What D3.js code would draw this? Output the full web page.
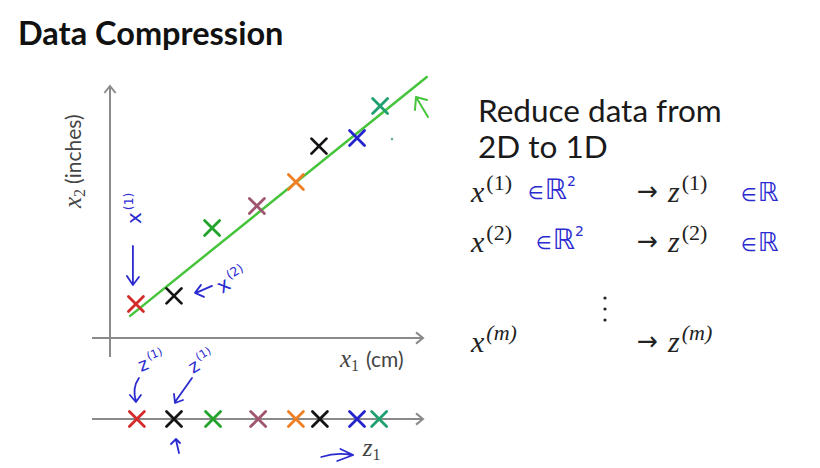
<!DOCTYPE html>
<html><head><meta charset="utf-8">
<script src="https://cdn.jsdelivr.net/npm/d3@7"></script>
<style>body{margin:0;background:#fff}svg{display:block}</style>
</head><body>
<script>
// ---- data ----
const pointNames = ["p1","p2","p3","p4","p5","p6","p7","p8"];
const x1Values = [8.1, 20.0, 31.9, 45.9, 58.1, 65.3, 77.2, 84.4];
const x2Values = [13.1, 16.2, 42.3, 50.8, 60.0, 73.8, 76.9, 89.2];
const z1Values = [8.4, 20.0, 32.2, 46.3, 58.1, 65.6, 77.2, 84.1];
const pointColors = ["#d42a2a","#141414","#22a32c","#a0566e","#ef7f22","#141414","#2424cc","#20a070"];
const lineX = [6.3, 99];
const lineY = [8.5, 100.4];

const W = 820, H = 468;
const svg = d3.select("body").append("svg").attr("width", W).attr("height", H);

const x = d3.scaleLinear().domain([0, 100]).range([110, 430]);
const y = d3.scaleLinear().domain([0, 100]).range([338, 78]);
const zY = 419;

const gray = "#8a8a8a", blue = "#2a2ad0", green = "#46c43c";
const serif = "'Liberation Serif', 'Times New Roman', serif";
const sans = "Lato, 'Open Sans', sans-serif";

// title
svg.append("text").attr("x", 18).attr("y", 45)
  .attr("font-family", sans).attr("font-weight", 700)
  .attr("font-size", 32.5).attr("fill", "#111").text("Data Compression");

// axes helper
function chevron(g, px, py, dir) {
  const s = 7;
  let d;
  if (dir === "right") d = `M${px - s},${py - s * 0.8}L${px},${py}L${px - s},${py + s * 0.8}`;
  else d = `M${px - s * 0.8},${py + s}L${px},${py}L${px + s * 0.8},${py + s}`;
  g.append("path").attr("d", d).attr("fill", "none").attr("stroke", gray).attr("stroke-width", 2);
}
const ax = svg.append("g");
ax.append("line").attr("x1", x(0)).attr("x2", x(0)).attr("y1", 357).attr("y2", 86)
  .attr("stroke", gray).attr("stroke-width", 2);
chevron(ax, x(0), 86, "up");
ax.append("line").attr("x1", 92).attr("x2", 423).attr("y1", y(0)).attr("y2", y(0))
  .attr("stroke", gray).attr("stroke-width", 2);
chevron(ax, 423, y(0), "right");
ax.append("line").attr("x1", 92).attr("x2", 423).attr("y1", zY).attr("y2", zY)
  .attr("stroke", gray).attr("stroke-width", 2);
chevron(ax, 423, zY, "right");

// axis labels
const ylab = svg.append("text").attr("transform", "translate(81,208) rotate(-90)")
  .attr("font-size", 21).attr("fill", "#444");
ylab.append("tspan").attr("font-family", serif).attr("font-style", "italic").attr("font-size", 25).text("x");
ylab.append("tspan").attr("font-family", serif).attr("font-size", 16).attr("dy", 4).text("2");
ylab.append("tspan").attr("font-family", sans).attr("dy", -4).attr("dx", 5).text("(inches)");

const xlab = svg.append("text").attr("x", 340).attr("y", 367)
  .attr("font-size", 21).attr("fill", "#444");
xlab.append("tspan").attr("font-family", serif).attr("font-style", "italic").attr("font-size", 25).text("x");
xlab.append("tspan").attr("font-family", serif).attr("font-size", 16).attr("dy", 4).text("1");
xlab.append("tspan").attr("font-family", sans).attr("dy", -4).attr("dx", 7).text("(cm)");

// regression line
svg.append("line")
  .attr("x1", x(lineX[0])).attr("y1", y(lineY[0]))
  .attr("x2", x(lineX[1])).attr("y2", y(lineY[1]))
  .attr("stroke", green).attr("stroke-width", 2.5).attr("stroke-linecap", "round");

// cross marks
function cross(g, cx, cy, color) {
  const s = 7.5;
  g.append("path")
    .attr("d", `M${cx - s},${cy - s}L${cx + s},${cy + s}M${cx + s},${cy - s}L${cx - s},${cy + s}`)
    .attr("stroke", color).attr("stroke-width", 2.8).attr("stroke-linecap", "round").attr("fill", "none");
}
const pts = svg.append("g");
pointNames.forEach((n, i) => cross(pts, x(x1Values[i]), y(x2Values[i]), pointColors[i]));
const zpts = svg.append("g");
pointNames.forEach((n, i) => cross(zpts, x(z1Values[i]), zY, pointColors[i]));

// ---- hand annotations (blue) ----
const hand = svg.append("g").attr("stroke", blue).attr("fill", "none")
  .attr("stroke-width", 1.8).attr("stroke-linecap", "round").attr("stroke-linejoin", "round");
function hText(tx, ty, rot, main, sup, size) {
  const t = svg.append("text").attr("transform", `translate(${tx},${ty}) rotate(${rot})`)
    .attr("fill", blue).attr("font-family", "'DejaVu Sans', sans-serif").attr("font-size", size || 17);
  t.append("tspan").text(main);
  t.append("tspan").attr("font-size", (size || 17) * 0.62).attr("dy", -8).attr("dx", 2).text(sup);
  return t;
}
const r1x = x(x1Values[0]);
hText(r1x + 5, 224, -90, "x", "(1)", 20);
hand.append("path").attr("d", `M${r1x - 3},246 L${r1x - 3},284 M${r1x - 9},276 L${r1x - 3},285 L${r1x + 3},277`);
const b1x = x(x1Values[1]), b1y = y(x2Values[1]);
hand.append("path").attr("d", `M${b1x + 38},${b1y - 10} L${b1x + 22},${b1y - 3} M${b1x + 27},${b1y - 11} L${b1x + 21},${b1y - 3} L${b1x + 30},${b1y + 1}`);
hText(b1x + 48, b1y - 2, -32, "x", "(2)", 20);
hText(r1x + 5, 372, -22, "z", "(1)", 18);
hand.append("path").attr("d", `M${r1x + 3},378 Q${r1x - 4},388 ${r1x},401 M${r1x - 6},395 L${r1x},402 L${r1x + 5},395`);
hText(b1x + 19, 374, -32, "z", "(1)", 18);
hand.append("path").attr("d", `M${b1x + 18},378 L${b1x + 1},402 M${b1x},394 L${b1x + 1},403 L${b1x + 9},400`);
hand.append("path").attr("d", `M${b1x + 5},453 L${b1x + 2},440 M${b1x - 3},444 L${b1x + 2},439 L${b1x + 6},443`);
hand.append("path").attr("d", `M${x(66)},457 Q${x(71)},452 ${x(75.5)},455 M${x(72)},449 L${x(76)},455 L${x(71)},461`);
const z1t = svg.append("text").attr("x", x(79)).attr("y", 456).attr("fill", "#444");
z1t.append("tspan").attr("font-family", serif).attr("font-style", "italic").attr("font-size", 25).text("z");
z1t.append("tspan").attr("font-family", serif).attr("font-size", 16).attr("dy", 4).text("1");

// green hand-drawn arrow
svg.append("path").attr("d", "M428,117 L416,97 M416,97 L415,110 M416,97 L427,100")
  .attr("stroke", green).attr("stroke-width", 2).attr("fill", "none").attr("stroke-linecap", "round");
svg.append("circle").attr("cx", 392).attr("cy", 139).attr("r", 1.2).attr("fill", "#5a8");

// ---- right text ----
const rt = svg.append("g").attr("font-family", sans).attr("fill", "#1a1a1a");
rt.append("text").attr("x", 478).attr("y", 122).attr("font-size", 31.5).text("Reduce data from");
rt.append("text").attr("x", 478).attr("y", 158).attr("font-size", 31.5).text("2D to 1D");

const rowsLeft = ["1", "2", "m"];
const rowsY = [202, 252, 352];
const rowsHand = [true, true, false];
rowsLeft.forEach((s, i) => {
  const t = svg.append("text").attr("x", 471).attr("y", rowsY[i]).attr("fill", "#222").attr("font-size", 30)
    .attr("font-family", serif);
  t.append("tspan").attr("font-style", "italic").text("x");
  t.append("tspan").attr("font-size", 22).attr("dy", -12).attr("dx", 2)
    .attr("font-style", s === "m" ? "italic" : "normal").text(`(${s})`);
  svg.append("text").attr("x", 637).attr("y", rowsY[i] - 2).attr("fill", "#222").attr("font-size", 26)
    .attr("font-family", "'DejaVu Sans', sans-serif")
    .attr("textLength", 21).attr("lengthAdjust", "spacingAndGlyphs").text("→");
  const u = svg.append("text").attr("x", 668).attr("y", rowsY[i]).attr("fill", "#222").attr("font-size", 30)
    .attr("font-family", serif);
  u.append("tspan").attr("font-style", "italic").text("z");
  u.append("tspan").attr("font-size", 22).attr("dy", -12).attr("dx", 2)
    .attr("font-style", s === "m" ? "italic" : "normal").text(`(${s})`);
  if (rowsHand[i]) {
    const a = svg.append("text").attr("x", i === 0 ? 528 : 536).attr("y", rowsY[i] - 3).attr("fill", blue)
      .attr("font-family", "'DejaVu Sans', sans-serif").attr("font-size", 28);
    a.append("tspan").attr("font-size", 18).text("∈");
    a.append("tspan").attr("dx", 1).text("ℝ");
    a.append("tspan").attr("font-size", 14).attr("dy", -13).text("2");
    const b = svg.append("text").attr("x", 741).attr("y", rowsY[i] - 1).attr("fill", blue)
      .attr("font-family", "'DejaVu Sans', sans-serif").attr("font-size", 26);
    b.append("tspan").attr("font-size", 18).text("∈");
    b.append("tspan").attr("dx", 1).text("ℝ");
  }
});
[298, 309, 320].forEach(dy => svg.append("circle").attr("cx", 605).attr("cy", dy).attr("r", 1.6).attr("fill", "#222"));
</script>
</body></html>
